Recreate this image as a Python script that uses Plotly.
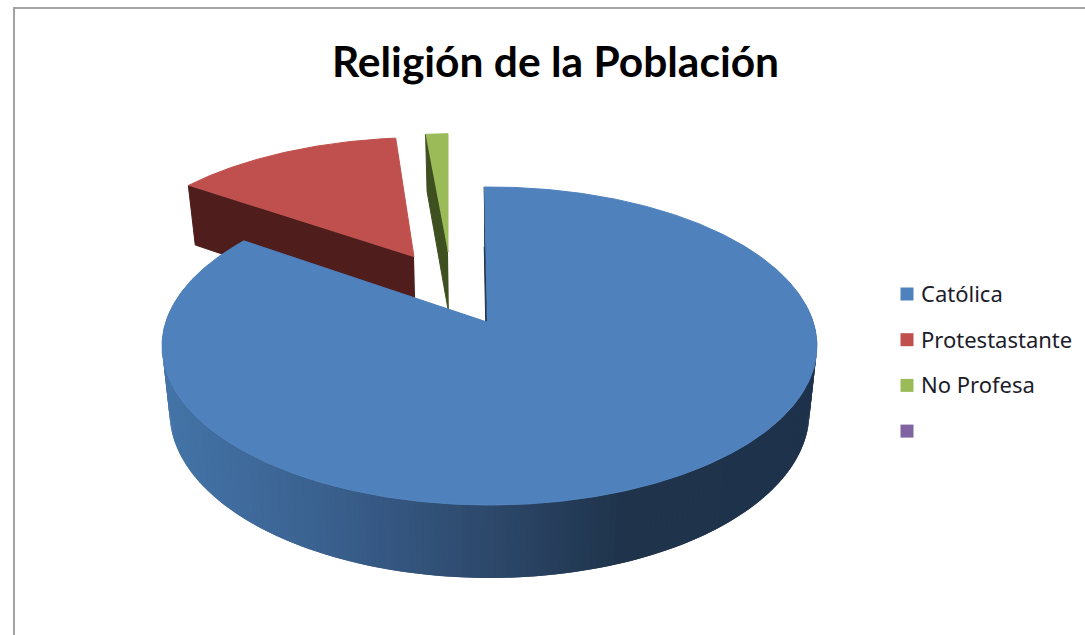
"""3D-style exploded pie of religion shares, drawn with Plotly scatter polygons."""

import numpy as np
import plotly.graph_objects as go

TITLE = "Religión de la Población"
LABELS = ["Católica", "Protestastante", "No Profesa", ""]
VALUES = [84.9, 13.75, 1.35, 0.0]
FACE_COLORS = ["#4f81bd", "#c0504d", "#9bbb59", "#8064a2"]
WALL_COLORS = ["#1f334c", "#4f1d1b", "#3f5020", "#4c3c61"]

# explosion of each slice in disk units (u right, v away from the viewer)
EXPLODE = [(0.0, 0.0), (-0.249, 0.446), (-0.1376, 0.483), (0.0, 0.0)]
START_ANGLE = -1.1

# perspective of the pie's top face, fitted to the picture
CX, CY = 489.5, 322.0
AX, HY, PERSP = 323.7, 155.4, 0.151

WIDTH, HEIGHT = 1085, 635


def top(u, v):
    w = 1 + PERSP * np.asarray(v)
    return CX + AX * np.asarray(u) / w, CY - HY * np.asarray(v) / w


def drop(x, y):
    """Move a point of the top face down to the bottom rim."""
    return x - 0.023 * (x - CX), y + 58 + 0.042 * (y - 150)


def arc(start, end, offset, step=1.0):
    n = max(int(abs(end - start) / step), 1) + 1
    a = np.radians(np.linspace(start, end, n))
    return offset[0] + np.sin(a), offset[1] + np.cos(a)


def poly(xs, ys, color, line_width=1):
    return go.Scatter(
        x=list(xs), y=list(ys), mode="lines", fill="toself", fillcolor=color,
        line={"color": color, "width": line_width}, hoverinfo="skip", showlegend=False,
    )


def wall_color(x):
    # blue rim shading runs from light on the left to dark on the right
    stops = [165, 320, 500, 620, 820]
    r = np.interp(x, stops, [0x44, 0x3a, 0x2c, 0x1f, 0x1e])
    g = np.interp(x, stops, [0x74, 0x61, 0x46, 0x33, 0x32])
    b = np.interp(x, stops, [0xa8, 0x8f, 0x68, 0x4b, 0x4b])
    return f"rgb({r:.0f},{g:.0f},{b:.0f})"


def build_slices():
    total = sum(VALUES)
    angle = START_ANGLE
    slices = []
    for value, off in zip(VALUES, EXPLODE):
        span = value / total * 360
        slices.append((angle, angle + span, off))
        angle += span
    return slices


slices = build_slices()
fig = go.Figure()

# side walls of the two small slices go in first, the big slice covers them
for i in (1, 2):
    start, end, off = slices[i]
    ex, ey = top(*arc(start, start, off, 360))
    ax, ay = top(off[0], off[1])
    px = [ax, ex[0]]
    py = [ay, ey[0]]
    bx, by = drop(np.array(px), np.array(py))
    fig.add_trace(poly(px + list(bx[::-1]), py + list(by[::-1]), WALL_COLORS[i]))

# rim of the big slice, one small quad per shade; the back half is hidden anyway
start, end, off = slices[0]
rim_u, rim_v = arc(start, end, off, 1.0)
rim_x, rim_y = top(rim_u, rim_v)
low_x, low_y = drop(rim_x, rim_y)
for j in np.nonzero(rim_v < 0.1)[0][:-2]:
    # each quad reaches over the next one so no seams show between them
    qx = [rim_x[j], rim_x[j + 2], low_x[j + 2], low_x[j]]
    qy = [rim_y[j], rim_y[j + 2], low_y[j + 2], low_y[j]]
    fig.add_trace(poly(qx, qy, wall_color(np.mean(qx)), line_width=0))

# cut wall at the start of the big slice, mostly hidden by its face
apex_x, apex_y = top(-0.008, 0.0)
wx = [rim_x[0], apex_x]
wy = [rim_y[0], apex_y]
wbx, wby = drop(np.array(wx), np.array(wy))
fig.add_trace(poly(wx + list(wbx[::-1]), wy + list(wby[::-1]), WALL_COLORS[0]))

# top faces
for i in (1, 2, 0):
    start, end, off = slices[i]
    u, v = arc(start, end, off, 0.5)
    fx, fy = top(u, v)
    if i == 0:
        ax, ay = apex_x, apex_y
    else:
        ax, ay = top(off[0], off[1])
    fig.add_trace(poly(list(fx) + [ax], list(fy) + [ay], FACE_COLORS[i]))

# legend column
legend_y = [294 + 45.7 * i for i in range(len(LABELS))]
fig.add_trace(
    go.Scatter(
        x=[907] * len(LABELS), y=legend_y, mode="markers",
        marker={"symbol": "square", "size": 13, "color": FACE_COLORS},
        hoverinfo="skip", showlegend=False,
    )
)
for label, y in zip(LABELS, legend_y):
    if label:
        fig.add_annotation(
            x=919, y=y - 1, text=label, showarrow=False, xanchor="left", yanchor="middle",
            font={"family": "Noto Sans", "size": 22, "color": "#1c1c2a"},
        )

fig.update_layout(
    width=WIDTH,
    height=HEIGHT,
    margin={"l": 0, "r": 0, "t": 0, "b": 0},
    paper_bgcolor="white",
    plot_bgcolor="white",
    showlegend=False,
    title={
        "text": TITLE, "x": 555.5 / WIDTH, "xanchor": "center",
        "y": 1 - 62 / HEIGHT, "yanchor": "middle",
        "font": {"family": "Lato", "size": 42.5, "color": "#000000", "weight": "bold"},
    },
    xaxis={"range": [0, WIDTH], "visible": False, "fixedrange": True},
    yaxis={"range": [HEIGHT, 0], "visible": False, "fixedrange": True},
    shapes=[
        {
            "type": "path", "path": f"M 14 {HEIGHT} L 14 8 L {WIDTH} 8",
            "line": {"color": "#a3a3a3", "width": 2}, "layer": "below",
        }
    ],
)

fig.write_html(
    "out.html",
    config={"displayModeBar": False},
    post_script="document.body.style.margin = '0';",
)
